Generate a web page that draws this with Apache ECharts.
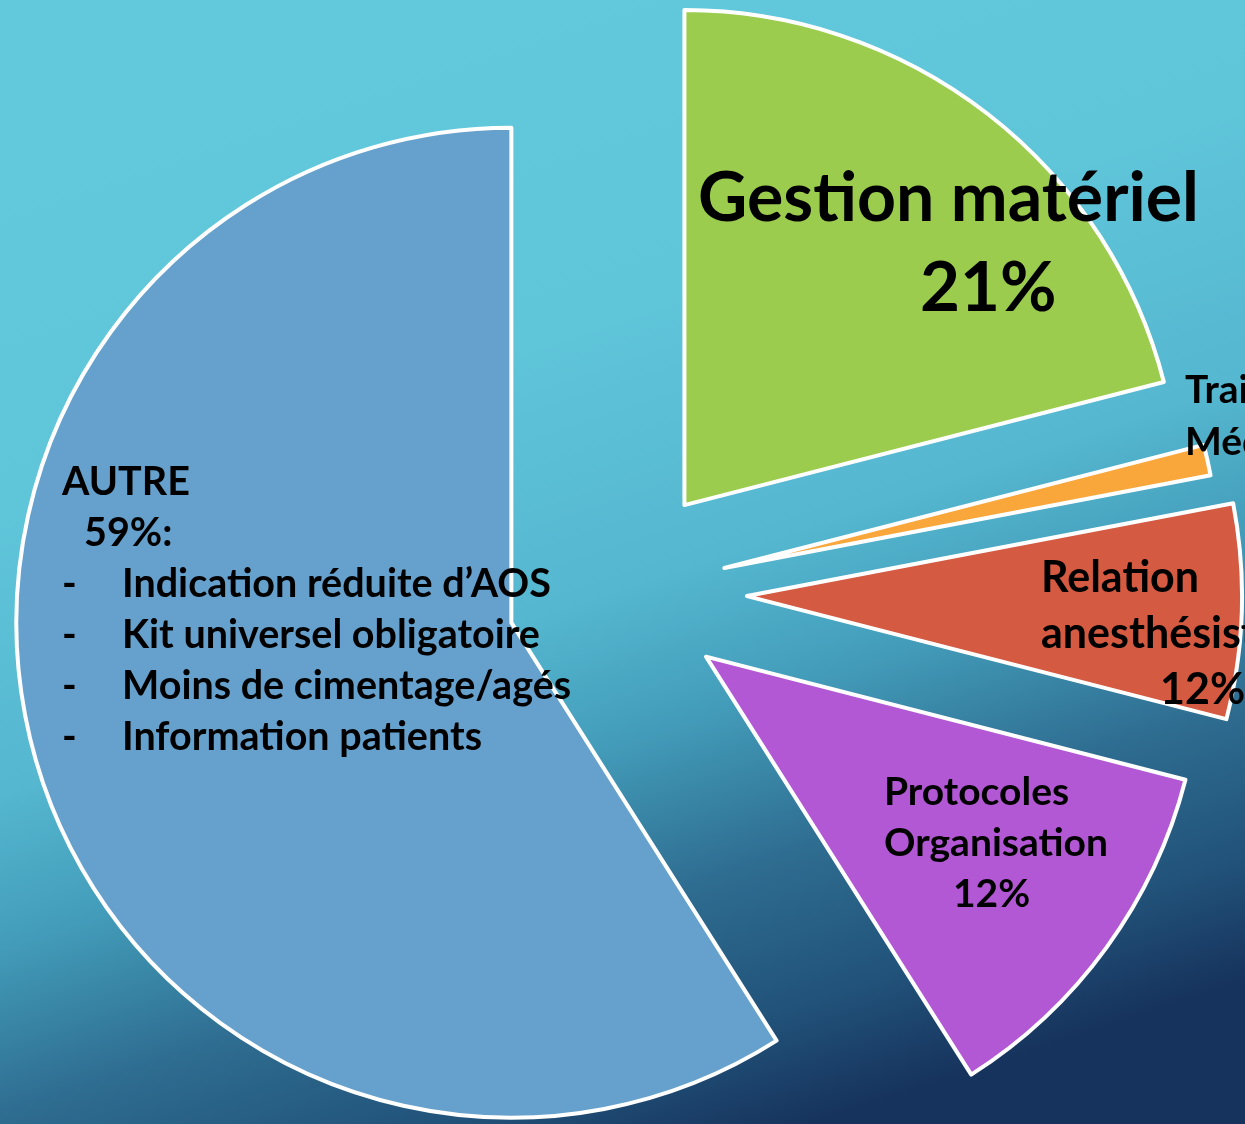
<!DOCTYPE html>
<html>
<head>
<meta charset="utf-8">
<script src="https://cdn.jsdelivr.net/npm/echarts@6/dist/echarts.min.js"></script>
<style>html,body{margin:0;padding:0;overflow:hidden;}#c{width:1245px;height:1124px;}</style>
</head>
<body>
<div id="c"></div>
<script>
// ---- data ----
const categories = ['Gestion matériel', 'Traitement Médical', 'Relation anesthésiste', 'Protocoles Organisation', 'AUTRE'];
const values = [21, 1, 7, 12, 59];
const percentLabels = ['21%', '1%', '12%', '12%', '59%:'];
const autreItems = ['Indication réduite d’AOS', 'Kit universel obligatoire', 'Moins de cimentage/agés', 'Information patients'];

// ---- styles ----
const colors = ['#9ccc4e', '#f9a63b', '#d45a41', '#b358d4', '#65a1cc'];
const labelPos = [[698, 154], [1185, 364], [1041, 550], [884, 767], [62, 457]];
const FONT = 'Lato';

const labelTexts = [
  '{g|Gestion matériel}\n{g2|' + percentLabels[0] + '}',
  '{t|Traitement}\n{t|Médical}\n{t2|' + percentLabels[1] + '}',
  '{r|Relation}\n{r|anesthésiste}\n{r2|' + percentLabels[2] + '}',
  '{p|Protocoles}\n{p|Organisation}\n{p2|' + percentLabels[3] + '}',
  '{a|' + categories[4] + '}\n{a2|' + percentLabels[4] + '}\n' +
    autreItems.map(s => '{d|-}{a|' + s + '}').join('\n')
];

function st(size, lh, padLeft, extra) {
  const o = { fontSize: size, lineHeight: lh, fontWeight: 'bold', fontFamily: FONT, fill: '#000', color: '#000' };
  if (padLeft) o.padding = [0, 0, 0, padLeft];
  return Object.assign(o, extra || {});
}
const rich = {
  g: st(68, 90), g2: st(69, 90, 222),
  t: st(39, 52), t2: st(39, 52, 58),
  r: st(43, 56), r2: st(43, 56, 119),
  p: st(39, 51), p2: st(39, 51, 69),
  a: st(39.5, 51), a2: st(39.5, 51, 22),
  d: st(39.5, 51, 0, { width: 60 })
};

function buildData(visibleFn) {
  return categories.map((name, i) => {
    const vis = visibleFn(i);
    return {
      name: name,
      value: values[i],
      selected: vis,
      itemStyle: vis ? { color: colors[i], borderColor: '#ffffff', borderWidth: 4 }
                     : { color: 'rgba(0,0,0,0)', borderWidth: 0 }
    };
  });
}

function pieSeries(offset, visibleFn) {
  return {
    type: 'pie',
    center: [617, 592],
    radius: [0, 495],
    startAngle: 90,
    clockwise: true,
    selectedMode: 'multiple',
    selectedOffset: offset,
    silent: true,
    animation: false,
    emphasis: { disabled: true, scale: false },
    select: { itemStyle: { borderColor: '#ffffff', borderWidth: 4 } },
    label: { show: false },
    labelLine: { show: false },
    data: buildData(visibleFn)
  };
}

const graphics = labelTexts.map((txt, i) => ({
  type: 'text',
  x: labelPos[i][0],
  y: labelPos[i][1],
  z: 100,
  silent: true,
  style: {
    text: txt,
    rich: rich,
    fontFamily: FONT,
    fontWeight: 'bold',
    fill: '#000',
    align: 'left',
    verticalAlign: 'top'
  }
}));

const chart = echarts.init(document.getElementById('c'), null, { renderer: 'canvas' });
chart.setOption({
  animation: false,
  backgroundColor: {
    type: 'linear', x: 0.35, y: 0, x2: 0.65, y2: 1,
    colorStops: [
      { offset: 0, color: '#62c9dd' },
      { offset: 0.3, color: '#5fc5d9' },
      { offset: 0.52, color: '#55b7d0' },
      { offset: 0.64, color: '#439dba' },
      { offset: 0.78, color: '#2e6c90' },
      { offset: 0.9, color: '#22537a' },
      { offset: 1, color: '#16335d' }
    ]
  },
  graphic: graphics,
  series: [
    pieSeries(110, i => i !== 2),
    pieSeries(130, i => i === 2)
  ]
});
</script>
</body>
</html>
